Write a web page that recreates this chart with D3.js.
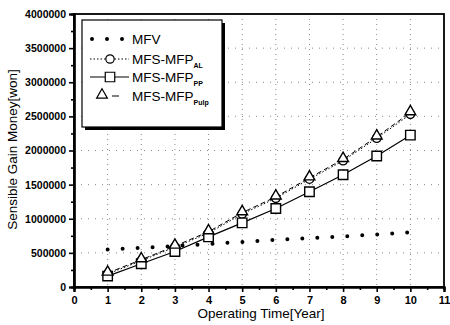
<!DOCTYPE html>
<html>
<head>
<meta charset="utf-8">
<script src="https://cdn.jsdelivr.net/npm/d3@7"></script>
<style>
  body { margin: 0; background: #fff; }
  svg { font-family: "Liberation Sans", Arial, sans-serif; }
</style>
</head>
<body>
<svg id="drawing_region"></svg>
<script>
// chart values
const years = [1, 2, 3, 4, 5, 6, 7, 8, 9, 10];
const mfv = [550000, 575000, 600000, 630000, 660000, 690000, 715000, 740000, 770000, 800000];
const mfpAL = [190000, 385000, 585000, 790000, 1070000, 1300000, 1580000, 1850000, 2180000, 2530000];
const mfpPP = [160000, 340000, 520000, 735000, 940000, 1150000, 1395000, 1645000, 1920000, 2225000];
const mfpPulp = [205000, 400000, 600000, 810000, 1090000, 1320000, 1600000, 1870000, 2200000, 2555000];
const xTicks = [0, 1, 2, 3, 4, 5, 6, 7, 8, 9, 10, 11];
const yTicks = [0, 500000, 1000000, 1500000, 2000000, 2500000, 3000000, 3500000, 4000000];

const config = {
    width: 450,
    height: 325,
    margin: {top: 14, right: 6, bottom: 38, left: 74}
};

const svg = d3.select('#drawing_region')
    .attr('width', config.width)
    .attr('height', config.height);

const inner_width = config.width - config.margin.left - config.margin.right;
const inner_height = config.height - config.margin.top - config.margin.bottom;

const chart = svg.append('g')
    .attr('transform', `translate(${config.margin.left}, ${config.margin.top})`);

const xscale = d3.scaleLinear().domain([0, 11]).range([0, inner_width]);
const yscale = d3.scaleLinear().domain([0, 4000000]).range([inner_height, 0]);

// grid
chart.append('g').selectAll('line')
    .data(xTicks.filter(d => d > 0 && d < 11))
    .join('line')
    .attr('x1', d => xscale(d)).attr('x2', d => xscale(d))
    .attr('y1', 0).attr('y2', inner_height)
    .attr('stroke', '#888').attr('stroke-width', 1)
    .attr('stroke-dasharray', '1,4');

chart.append('g').selectAll('line')
    .data(yTicks.filter(d => d > 0 && d < 4000000))
    .join('line')
    .attr('y1', d => yscale(d)).attr('y2', d => yscale(d))
    .attr('x1', 0).attr('x2', inner_width)
    .attr('stroke', '#888').attr('stroke-width', 1)
    .attr('stroke-dasharray', '1,6');

// frame (top / right)
chart.append('rect')
    .attr('x', 0).attr('y', 0)
    .attr('width', inner_width).attr('height', inner_height)
    .attr('fill', 'none').attr('stroke', '#000').attr('stroke-width', 1.8);

// axes
const xaxis = d3.axisBottom(xscale).tickValues(xTicks).tickSize(5).tickPadding(4).tickFormat(d3.format('d'));
const xminor = d3.axisBottom(xscale).tickValues(d3.range(0.5, 11, 1)).tickSize(3).tickFormat('');
const yaxis = d3.axisLeft(yscale).tickValues(yTicks).tickSize(5).tickPadding(3).tickFormat(d3.format('d'));
const yminor = d3.axisLeft(yscale).tickValues(d3.range(250000, 4000000, 500000)).tickSize(3).tickFormat('');

function styleAxis(g) {
    g.select('.domain').attr('stroke-width', 2.2);
    g.selectAll('.tick line').attr('stroke-width', 1.6);
    g.selectAll('.tick text')
        .style('font-size', '10.5px')
        .style('font-weight', 'bold')
        .style('font-family', '"Liberation Sans", Arial, sans-serif');
}

chart.append('g').attr('transform', `translate(0, ${inner_height})`).call(xminor).call(styleAxis);
chart.append('g').attr('transform', `translate(0, ${inner_height})`).call(xaxis).call(styleAxis)
    .selectAll('.tick text').style('font-size', '11px');
chart.append('g').call(yminor).call(styleAxis);
chart.append('g').call(yaxis).call(styleAxis);

// axis titles
svg.append('text')
    .attr('x', config.margin.left + inner_width / 2 + 2)
    .attr('y', 318)
    .attr('text-anchor', 'middle')
    .style('font-size', '13.5px')
    .text('Operating Time[Year]');

svg.append('text')
    .attr('transform', `translate(17, ${config.margin.top + inner_height / 2 - 1}) rotate(-90)`)
    .attr('text-anchor', 'middle')
    .style('font-size', '13.5px')
    .text('Sensible Gain Money[won]');

// lines
const line = arr => d3.line()
    .x((d, i) => xscale(years[i]))
    .y(d => yscale(d))(arr);

chart.append('path').attr('d', line(mfv))
    .attr('fill', 'none').attr('stroke', '#000').attr('stroke-width', 4)
    .attr('stroke-linecap', 'round').attr('stroke-dasharray', '0,15');

chart.append('path').attr('d', line(mfpAL))
    .attr('fill', 'none').attr('stroke', '#000').attr('stroke-width', 1)
    .attr('stroke-dasharray', '1.5,2');

chart.append('path').attr('d', line(mfpPulp))
    .attr('fill', 'none').attr('stroke', '#000').attr('stroke-width', 1)
    .attr('stroke-dasharray', '5,3');

chart.append('path').attr('d', line(mfpPP))
    .attr('fill', 'none').attr('stroke', '#000').attr('stroke-width', 1.2);

// markers
const circleSym = d3.symbol().type(d3.symbolCircle).size(55);
const squareSym = d3.symbol().type(d3.symbolSquare).size(90);
const triSym = d3.symbol().type(d3.symbolTriangle).size(50);

function markers(arr, sym, dy) {
    chart.append('g').selectAll('path')
        .data(arr)
        .join('path')
        .attr('d', sym)
        .attr('transform', (d, i) => `translate(${xscale(years[i])}, ${yscale(d) + (dy || 0)})`)
        .attr('fill', '#fff').attr('stroke', '#000').attr('stroke-width', 1.4);
}
markers(mfpAL, circleSym);
markers(mfpPP, squareSym);
markers(mfpPulp, triSym, -1);

// legend
const lg = svg.append('g');
lg.append('rect').attr('x', 85).attr('y', 23).attr('width', 140).attr('height', 107).attr('fill', '#000');
lg.append('rect').attr('x', 82).attr('y', 20).attr('width', 140).attr('height', 107)
    .attr('fill', '#fff').attr('stroke', '#000').attr('stroke-width', 1.2);

const legendNames = ['MFV', 'MFS-MFP', 'MFS-MFP', 'MFS-MFP'];
const legendSubs = ['', 'AL', 'PP', 'Pulp'];
const legendY = [39, 59, 77, 96];

lg.append('line').attr('x1', 92).attr('x2', 126).attr('y1', legendY[0]).attr('y2', legendY[0])
    .attr('stroke', '#000').attr('stroke-width', 4).attr('stroke-linecap', 'round')
    .attr('stroke-dasharray', '0,15');
lg.append('line').attr('x1', 90).attr('x2', 129).attr('y1', legendY[1]).attr('y2', legendY[1])
    .attr('stroke', '#000').attr('stroke-width', 1).attr('stroke-dasharray', '1.5,2');
lg.append('line').attr('x1', 90).attr('x2', 129).attr('y1', legendY[2]).attr('y2', legendY[2])
    .attr('stroke', '#000').attr('stroke-width', 1.2);
lg.append('line').attr('x1', 112).attr('x2', 119).attr('y1', legendY[3]).attr('y2', legendY[3])
    .attr('stroke', '#000').attr('stroke-width', 1);

lg.append('path').attr('d', circleSym).attr('transform', `translate(110, ${legendY[1]})`)
    .attr('fill', '#fff').attr('stroke', '#000').attr('stroke-width', 1.2);
lg.append('path').attr('d', squareSym).attr('transform', `translate(110, ${legendY[2]})`)
    .attr('fill', '#fff').attr('stroke', '#000').attr('stroke-width', 1.2);
lg.append('path').attr('d', triSym).attr('transform', `translate(102, ${legendY[3] - 1})`)
    .attr('fill', '#fff').attr('stroke', '#000').attr('stroke-width', 1.2);

legendNames.forEach((n, i) => {
    const t = lg.append('text')
        .attr('x', 132).attr('y', legendY[i] + 5)
        .style('font-size', '13.5px')
        .text(n);
    if (legendSubs[i]) {
        t.append('tspan')
            .attr('dy', 4)
            .style('font-size', '7px')
            .style('font-weight', 'bold')
            .text(legendSubs[i]);
    }
});
</script>
</body>
</html>
